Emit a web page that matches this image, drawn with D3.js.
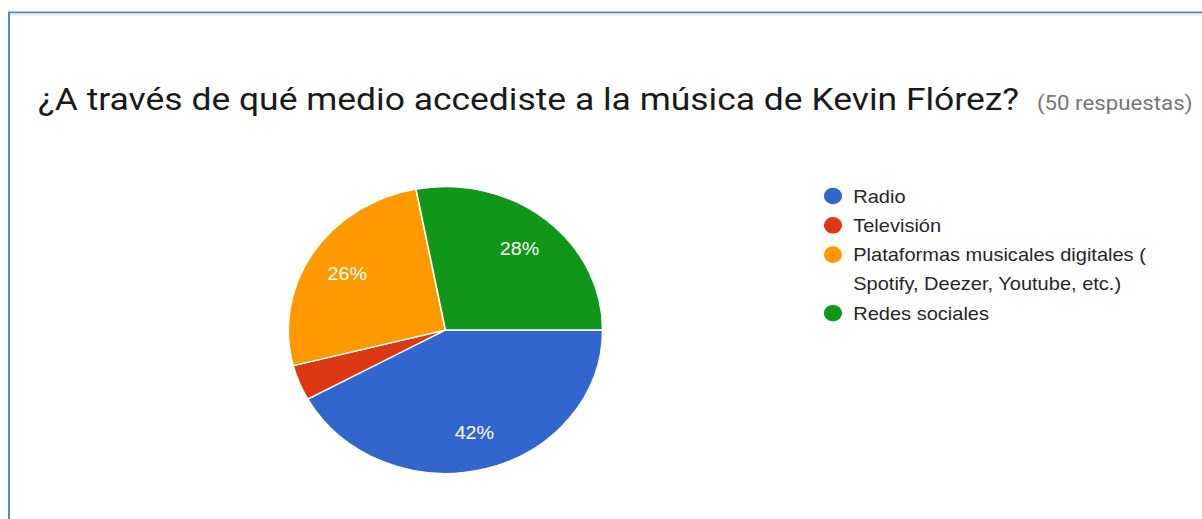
<!DOCTYPE html>
<html>
<head>
<meta charset="utf-8">
<script src="https://cdn.jsdelivr.net/npm/d3@7"></script>
<style>
  html, body { margin: 0; padding: 0; background: #fff; }
  svg { display: block; }
</style>
</head>
<body>
<svg id="chart" width="1202" height="519"></svg>
<script>
// Survey answers (50 responses)
const categories = ["Radio", "Televisión", "Plataformas musicales digitales ( Spotify, Deezer, Youtube, etc.)", "Redes sociales"];
const legendLines = [["Radio"], ["Televisión"], ["Plataformas musicales digitales (", "Spotify, Deezer, Youtube, etc.)"], ["Redes sociales"]];
const responses = [21, 2, 13, 14];
const sliceColors = ["#3366cc", "#dc3912", "#ff9900", "#109618"];
const titleText = "¿A través de qué medio accediste a la música de Kevin Flórez?";
const subtitleText = "(50 respuestas)";

const W = 1202, H = 519;
const stretchX = 1.095;          // the whole card is drawn slightly wider than tall
const svg = d3.select("#chart");

// card frame (left and top edges)
svg.append("path")
  .attr("d", `M9,${H} L9,12.5 L${W},12.5`)
  .attr("fill", "none")
  .attr("stroke", "#5a86d8")
  .attr("stroke-width", 2);
svg.append("line")
  .attr("x1", 10).attr("x2", W).attr("y1", 14.5).attr("y2", 14.5)
  .attr("stroke", "#ececec").attr("stroke-width", 2);

const g = svg.append("g").attr("transform", `scale(${stretchX},1)`);

// title + response count
g.append("text")
  .attr("x", 34.7).attr("y", 110)
  .attr("font-family", "Roboto, 'Noto Sans', sans-serif")
  .attr("font-size", 30.5)
  .attr("fill", "#1a1a1a")
  .attr("textLength", 896)
  .attr("lengthAdjust", "spacingAndGlyphs")
  .text(titleText);

g.append("text")
  .attr("x", 947).attr("y", 110)
  .attr("font-family", "Roboto, 'Noto Sans', sans-serif")
  .attr("font-size", 19.5)
  .attr("fill", "#757575")
  .attr("textLength", 142)
  .attr("lengthAdjust", "spacingAndGlyphs")
  .text(subtitleText);

// pie
const cx = 406.8, cy = 330, R = 143.5;
const total = d3.sum(responses);
const pie = d3.pie().sort(null).startAngle(Math.PI / 2).endAngle(Math.PI / 2 + 2 * Math.PI);
const arcs = pie(responses);
const arc = d3.arc().innerRadius(0).outerRadius(R);
const labelArc = d3.arc().innerRadius(R * 0.74).outerRadius(R * 0.74);
const color = d3.scaleOrdinal().domain(d3.range(categories.length)).range(sliceColors);

const pg = g.append("g").attr("transform", `translate(${cx},${cy})`);
pg.selectAll("path.slice")
  .data(arcs)
  .join("path")
  .attr("class", "slice")
  .attr("d", arc)
  .attr("fill", (d, i) => color(i))
  .attr("stroke", "#fff")
  .attr("stroke-width", 1.4);

const pct = d3.format(".0%");
pg.selectAll("text.pct")
  .data(arcs.filter(d => d.value / total >= 0.05))
  .join("text")
  .attr("class", "pct")
  .attr("transform", d => `translate(${labelArc.centroid(d)})`)
  .attr("text-anchor", "middle")
  .attr("dy", "0.36em")
  .attr("font-family", "'Liberation Sans', Arial, sans-serif")
  .attr("font-size", 18)
  .attr("fill", "#fff")
  .text(d => pct(d.value / total));

// legend
const legendX = 760.7, legendY = 196, rowH = 29.3;
let row = 0;
const lg = g.append("g");
legendLines.forEach((lines, i) => {
  const y = legendY + row * rowH;
  lg.append("circle")
    .attr("cx", legendX).attr("cy", y).attr("r", 8.3)
    .attr("fill", color(i));
  lines.forEach((t, j) => {
    lg.append("text")
      .attr("x", legendX + 18.5)
      .attr("y", y + j * rowH)
      .attr("dy", "0.36em")
      .attr("font-family", "'Liberation Sans', Arial, sans-serif")
      .attr("font-size", 18.3)
      .attr("fill", "#262626")
      .text(t);
  });
  row += lines.length;
});
</script>
</body>
</html>
